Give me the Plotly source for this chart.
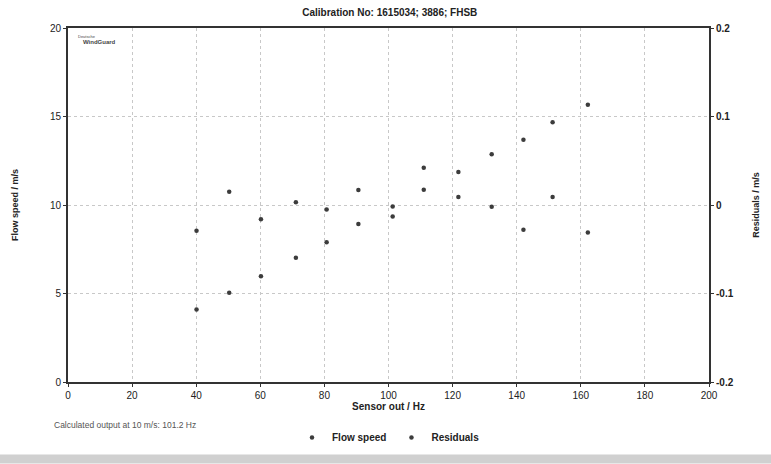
import plotly.graph_objects as go

sensor_hz = [40.1, 50.3, 60.2, 71.1, 80.7, 90.6, 101.3, 111.0, 121.8, 132.2, 142.1, 151.2, 162.2]
flow_speed = [4.10, 5.04, 5.97, 7.02, 7.90, 8.93, 9.92, 10.86, 11.87, 12.87, 13.69, 14.68, 15.67]
residuals = [-0.029, 0.015, -0.016, 0.003, -0.005, 0.017, -0.013, 0.042, 0.009, -0.002, -0.028, 0.009, -0.031]

x_ticks = [0, 20, 40, 60, 80, 100, 120, 140, 160, 180, 200]
y_ticks = [0, 5, 10, 15, 20]
y2_ticks = [-0.2, -0.1, 0, 0.1, 0.2]
y2_labels = ["-0.2", "-0.1", "0", "0.1", "0.2"]

FONT = "Liberation Sans, Arial, sans-serif"
DARK = "#333333"

fig = go.Figure()
fig.add_trace(go.Scatter(x=sensor_hz, y=flow_speed, mode="markers", name="<b>Flow speed</b>",
                         marker=dict(size=4.5, color="#3c3c3c"), yaxis="y"))
fig.add_trace(go.Scatter(x=sensor_hz, y=residuals, mode="markers", name="<b>Residuals</b>",
                         marker=dict(size=4.5, color="#3c3c3c"), yaxis="y2"))

axis_common = dict(showline=True, linecolor=DARK, linewidth=2, ticks="outside",
                   ticklen=3, tickcolor=DARK, zeroline=False,
                   tickfont=dict(family=FONT, size=10, color="#222"))

fig.update_layout(
    width=771, height=464,
    margin=dict(l=68, r=62, t=28, b=80),
    paper_bgcolor="white", plot_bgcolor="white",
    title=dict(text="<b>Calibration No: 1615034; 3886; FHSB</b>", x=0.502, xref="paper",
               y=0.972, yanchor="middle", font=dict(family=FONT, size=10, color="#222")),
    xaxis=dict(range=[0, 200], tickvals=x_ticks, showgrid=True, gridcolor="#c8c8c8",
               griddash="dot", gridwidth=1, mirror=True,
               tickprefix="<b>", ticksuffix="</b>",
               title=dict(text="<b>Sensor out / Hz</b>", standoff=0,
                          font=dict(family=FONT, size=10, color="#222")),
               **axis_common),
    yaxis=dict(range=[0, 20], tickvals=y_ticks, showgrid=True, gridcolor="#c8c8c8",
               griddash="dot", gridwidth=1,
               tickprefix="<b>", ticksuffix="</b>",
               title=dict(text="<b>Flow speed / m/s</b>", standoff=30,
                          font=dict(family=FONT, size=9, color="#222")),
               **axis_common),
    yaxis2=dict(range=[-0.2, 0.2], tickvals=y2_ticks, ticktext=["<b>%s</b>" % t for t in y2_labels],
                overlaying="y", side="right", showgrid=False,
                title=dict(text="<b>Residuals / m/s</b>", standoff=20,
                           font=dict(family=FONT, size=9, color="#222")),
                **axis_common),
    legend=dict(orientation="h", x=0.5, xanchor="center", y=-0.157, yanchor="middle",
                font=dict(family=FONT, size=10, color="#222"), itemwidth=30,
                tracegroupgap=0, bgcolor="rgba(0,0,0,0)"),
    showlegend=True,
    annotations=[
        dict(text="Calculated output at 10 m/s: 101.2 Hz", xref="paper", yref="paper",
             x=-0.025, y=-0.121, xanchor="left", yanchor="middle", showarrow=False,
             font=dict(family=FONT, size=8.5, color="#555")),
        dict(text="Deutsche", xref="paper", yref="paper", x=0.012, y=0.99,
             xanchor="left", yanchor="top", showarrow=False,
             font=dict(family=FONT, size=4, color="#444")),
        dict(text="<b>WindGuard</b>", xref="paper", yref="paper", x=0.02, y=0.975,
             xanchor="left", yanchor="top", showarrow=False,
             font=dict(family=FONT, size=6, color="#444")),
    ],
    shapes=[
        dict(type="rect", xref="paper", yref="paper", x0=-0.2, x1=1.2,
             y0=-0.205, y1=-0.23, fillcolor="#d0d0d0", line=dict(width=0), layer="below"),
    ],
)

fig.write_html("out.html")
